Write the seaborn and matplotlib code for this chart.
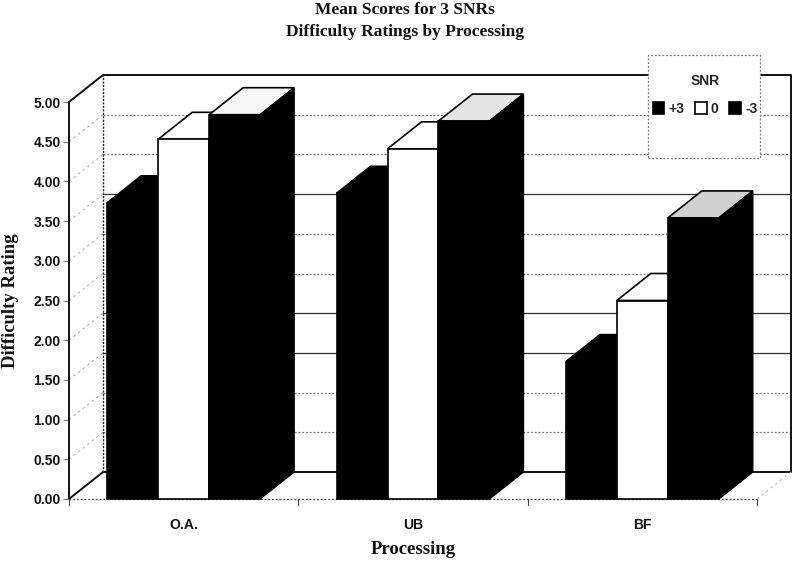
import pandas as pd
import matplotlib.pyplot as plt
from matplotlib.patches import Polygon, Rectangle
from matplotlib.transforms import IdentityTransform
import seaborn as sns

# chart values
processing = ["O.A.", "UB", "BF"]
snr_levels = ["+3", "0", "-3"]
scores_p3 = [3.73, 3.85, 1.73]
scores_0 = [4.53, 4.41, 2.50]
scores_m3 = [4.84, 4.76, 3.54]

df = pd.DataFrame({
    "Processing": processing * 3,
    "SNR": [s for s in snr_levels for _ in processing],
    "Rating": scores_p3 + scores_0 + scores_m3,
})

W, H = 793, 562
sns.set_theme(style="white")
plt.rcParams["font.family"] = ["Liberation Sans", "DejaVu Sans"]

fig = plt.figure(figsize=(W / 100, H / 100), dpi=100)
# front plane of the fake 3d box, in pixels
left, right, top, bottom = 69, 757, 102, 499
ax = fig.add_axes([left / W, 1 - bottom / H, (right - left) / W, (bottom - top) / H])
ax.patch.set_visible(False)

palette = {"+3": "black", "0": "white", "-3": "black"}
sns.barplot(data=df, x="Processing", y="Rating", hue="SNR", palette=palette,
            width=0.667, gap=0, edgecolor="black", linewidth=1.2, ax=ax)
ax.set_xlim(-0.5, 2.5)
ax.set_ylim(0, 5)
sns.despine(ax=ax, left=True, bottom=True)

# depth offset in data units
dx = 34 / ((right - left) / 3)
dy = 27 / ((bottom - top) / 5)

# back wall gridlines
grid_ticks = [0.5, 1.0, 1.5, 2.0, 2.5, 3.0, 3.5, 4.0, 4.5]
solid_ticks = [1.5, 2.0, 3.5]
for t in grid_ticks:
    ls = "-" if t in solid_ticks else (0, (1.5, 1.5))
    col = "#333333" if t in solid_ticks else "#777777"
    ax.plot([-0.5 + dx, 2.5 + dx], [t + dy, t + dy], color=col, lw=0.9, ls=ls, clip_on=False, zorder=1)
    # left wall
    ax.plot([-0.5, -0.5 + dx], [t, t + dy], color="#999999", lw=0.6, ls=(0, (3, 4)), clip_on=False, zorder=1)

# wall outlines
wall = dict(color="#111111", clip_on=False, zorder=1.5, solid_capstyle="round")
ax.plot([-0.5, -0.5 + dx, 2.5 + dx, 2.5 + dx, -0.5 + dx, -0.5, -0.5],
        [5, 5 + dy, 5 + dy, dy, dy, 0, 5], lw=1.4, **wall)
ax.plot([-0.5 + dx, -0.5 + dx], [dy, 5 + dy], lw=1.0, ls=(0, (1.5, 1)), color="#222222", clip_on=False, zorder=1.5)
ax.plot([-0.5, 2.5], [0, 0], lw=0.9, ls=(0, (1.5, 1.5)), color="#444444", clip_on=False, zorder=1.5)
ax.plot([2.5, 2.5 + dx], [0, dy], lw=0.6, ls=(0, (3, 4)), color="#aaaaaa", clip_on=False, zorder=1.5)

# top and side faces, built from the bars seaborn drew
top_colors = {
    "+3": ["black", "black", "black"],
    "0": ["white", "white", "white"],
    "-3": ["#f6f6f6", "#e4e4e4", "#cfcfcf"],
}
for i, cont in enumerate(ax.containers):
    level = snr_levels[i]
    for j, bar in enumerate(cont.patches):
        x0, x1 = bar.get_x(), bar.get_x() + bar.get_width()
        h = bar.get_height()
        bar.set_zorder(3 + i + 0.5)
        bar.set_clip_on(False)
        ax.add_patch(Polygon([(x0, h), (x0 + dx, h + dy), (x1 + dx, h + dy), (x1, h)],
                             facecolor=top_colors[level][j], edgecolor="black", lw=1.2,
                             clip_on=False, zorder=3 + i))
        ax.add_patch(Polygon([(x1, 0), (x1 + dx, dy), (x1 + dx, h + dy), (x1, h)],
                             facecolor="black", edgecolor="black", lw=1.0,
                             clip_on=False, zorder=3 + i))

# axes text
ax.set_yticks([0, 0.5, 1, 1.5, 2, 2.5, 3, 3.5, 4, 4.5, 5])
ax.set_yticklabels([f"{t:.2f}" for t in ax.get_yticks()], fontsize=10, fontweight="bold", color="#111111")
ax.set_xticks([0, 1, 2])
ax.set_xticklabels(processing, fontsize=10, fontweight="bold", color="#111111")
ax.tick_params(axis="y", left=True, length=4, width=0.7, color="#777777", pad=2)
ax.tick_params(axis="x", bottom=False, pad=8)
for b in [-0.5, 0.5, 1.5, 2.5]:
    ax.plot([b, b], [0, -0.07], color="#444444", lw=0.8, clip_on=False, zorder=1.5)

serif = ["Liberation Serif", "DejaVu Serif"]
fig.text(405 / W, 1 - 21 / H, "Mean Scores for 3 SNRs\nDifficulty Ratings by Processing",
         ha="center", va="center", fontsize=12.5, fontweight="bold", family=serif, linespacing=1.42, color="#111111")
fig.text(11 / W, 1 - 301 / H, "Difficulty Rating", rotation=90, ha="center", va="center",
         fontsize=13.5, fontweight="bold", family=serif, color="#111111")
fig.text(413 / W, 1 - 550 / H, "Processing", ha="center", va="center",
         fontsize=13.5, fontweight="bold", family=serif, color="#111111")

# legend box on top of the wall
fig_px = IdentityTransform()
box = Rectangle((648, H - 158), 112, 103, transform=fig_px, facecolor="white",
                edgecolor="#777777", lw=0.9, ls=(0, (1.5, 1.5)), clip_on=False, zorder=20)
ax.add_patch(box)
handles, labels = ax.get_legend_handles_labels()
leg = ax.legend(handles, labels, title="SNR", ncols=3, frameon=False, loc="upper center",
                bbox_to_anchor=(705 / W, 1 - 67 / H), bbox_transform=fig.transFigure,
                handlelength=0.85, handleheight=0.85, handletextpad=0.3, columnspacing=0.75,
                labelspacing=0.2, borderpad=0, prop={"size": 10, "weight": "bold"})
leg.get_title().set_fontweight("bold")
leg.get_title().set_fontsize(10)
leg._legend_box.sep = 10
leg.set_zorder(21)
ax.set_xlabel("")
ax.set_ylabel("")

fig.savefig("out.png", dpi=100)
